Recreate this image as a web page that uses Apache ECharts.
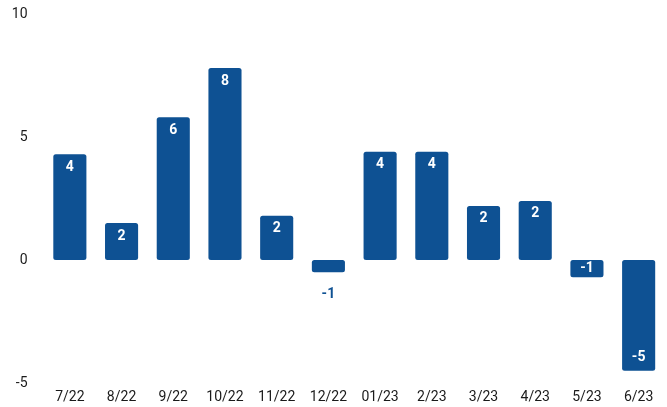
<!DOCTYPE html>
<html>
<head>
<meta charset="utf-8">
<style>
  html, body { margin: 0; padding: 0; background: #ffffff; }
  #chart { width: 667px; height: 407px; }
</style>
<script src="https://cdn.jsdelivr.net/npm/echarts@6/dist/echarts.min.js"></script>
</head>
<body>
<div id="chart"></div>
<script>
// Monthly change, July 2022 – June 2023
const months = ['7/22', '8/22', '9/22', '10/22', '11/22', '12/22', '01/23', '2/23', '3/23', '4/23', '5/23', '6/23'];
const changes = [4.3, 1.5, 5.8, 7.8, 1.8, -0.5, 4.4, 4.4, 2.2, 2.4, -0.7, -4.5];
const yTicks = { min: -5, max: 10, step: 5 };

const BAR_BLUE = '#0e5193';
const FONT = 'Roboto, "Noto Sans", sans-serif';

// Round half away from zero for the value labels
function roundLabel(v) {
  return String(Math.sign(v) * Math.round(Math.abs(v)));
}

// Positive bars carry the label inside the top; negative bars inside the
// bottom, and bars too short to hold text get it below in bar colour.
const seriesData = changes.map(function (v) {
  let label;
  if (v >= 0) {
    label = { position: 'insideTop', distance: 6, color: '#ffffff' };
  } else if (Math.abs(v) < 0.6) {
    label = { position: 'bottom', distance: 15, color: BAR_BLUE };
  } else if (Math.abs(v) < 1) {
    label = { position: 'inside', color: '#ffffff' };
  } else {
    label = { position: 'insideBottom', distance: 6, color: '#ffffff' };
  }
  return {
    value: v,
    label: label,
    itemStyle: { borderRadius: 2.5 }
  };
});

const chart = echarts.init(document.getElementById('chart'), null, { renderer: 'canvas' });
chart.setOption({
  animation: false,
  backgroundColor: '#ffffff',
  grid: { left: 44, right: 2.5, top: 14, bottom: 24, containLabel: false },
  xAxis: {
    type: 'category',
    data: months,
    axisLine: { show: false },
    axisTick: { show: false },
    axisLabel: {
      color: '#1a1a1a',
      fontFamily: FONT,
      fontSize: 14,
      margin: 7,
      interval: 0
    }
  },
  yAxis: {
    type: 'value',
    min: yTicks.min,
    max: yTicks.max,
    interval: yTicks.step,
    axisLine: { show: false },
    axisTick: { show: false },
    splitLine: { show: false },
    axisLabel: {
      color: '#1a1a1a',
      fontFamily: FONT,
      fontSize: 14,
      margin: 16.5
    }
  },
  series: [{
    type: 'bar',
    data: seriesData,
    barCategoryGap: '36%',
    itemStyle: { color: BAR_BLUE },
    label: {
      show: true,
      fontFamily: FONT,
      fontSize: 14,
      fontWeight: 'bold',
      formatter: function (p) { return roundLabel(p.value); }
    }
  }]
});
</script>
</body>
</html>
